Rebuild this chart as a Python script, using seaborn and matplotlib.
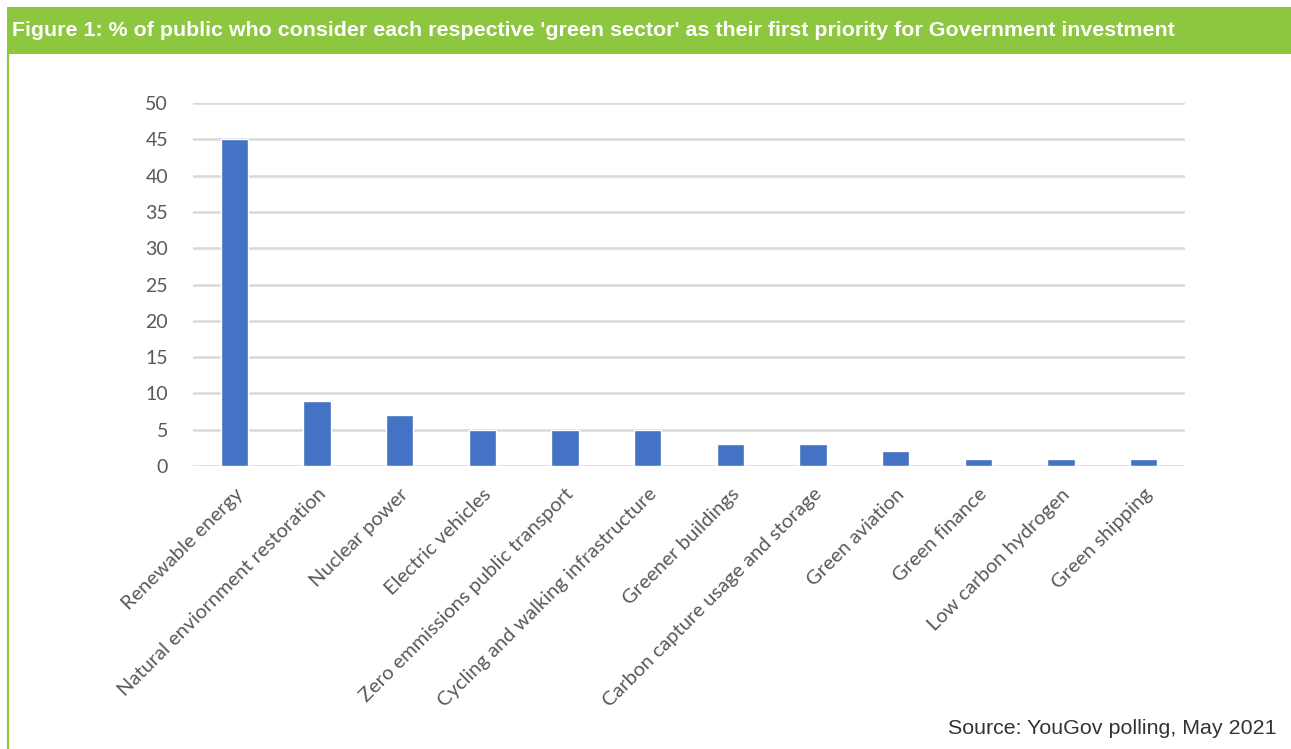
import matplotlib
matplotlib.use("Agg")
import matplotlib.pyplot as plt
import seaborn as sns
import pandas as pd
from matplotlib.patches import Rectangle
from matplotlib.lines import Line2D

categories = ["Renewable energy", "Natural enviornment restoration", "Nuclear power",
              "Electric vehicles", "Zero emmissions public transport",
              "Cycling and walking infrastructure", "Greener buildings",
              "Carbon capture usage and storage", "Green aviation", "Green finance",
              "Low carbon hydrogen", "Green shipping"]
values = [45, 9, 7, 5, 5, 5, 3, 3, 2, 1, 1, 1]
yticks = [0, 5, 10, 15, 20, 25, 30, 35, 40, 45, 50]

title = "Figure 1: % of public who consider each respective 'green sector' as their first priority for Government investment"
source = "Source: YouGov polling, May 2021"

sns.set_theme(style="white")
plt.rcParams['font.family'] = ['Lato', 'DejaVu Sans']

W, H = 1291, 749
fig = plt.figure(figsize=(W / 100, H / 100), dpi=100)
fig.patch.set_facecolor("white")

green = "#8DC63F"
fig.patches.append(Rectangle((7 / W, 1 - 54 / H), 1 - 7 / W, 47 / H, transform=fig.transFigure,
                             facecolor=green, edgecolor="none", zorder=0))
fig.lines.append(Line2D([7.5 / W, 7.5 / W], [0, 1 - 54 / H], transform=fig.transFigure,
                        color=green, lw=1.6))
fig.text(12 / W, 1 - 31 / H, title, color="white", fontsize=15.4, fontweight="bold",
         family=["Liberation Sans", "DejaVu Sans"], va="center", ha="left")
fig.text(1276 / W, 1 - 729 / H, source, color="#333333", fontsize=15.4,
         family=["Liberation Sans", "DejaVu Sans"], va="center", ha="right")

ax = fig.add_axes([193 / W, 1 - 466 / H, (1185 - 193) / W, (466 - 103) / H])
df = pd.DataFrame({"cat": categories, "val": values})
sns.barplot(data=df, x="cat", y="val", color="#4472C4", width=0.33, saturation=1, ax=ax, zorder=3)
ax.set_ylim(0, 50)
ax.set_xlim(-0.5, len(categories) - 0.5)
ax.set_yticks(yticks)
ax.yaxis.grid(True, color="#D9D9D9", lw=1.8, zorder=0)
ax.set_axisbelow(True)
for s in ax.spines.values():
    s.set_visible(False)
ax.set_xlabel("")
ax.set_ylabel("")
ax.tick_params(axis="y", length=0, pad=18, labelsize=14, labelcolor="#595959")
ax.tick_params(axis="x", length=0, pad=14, labelsize=14.5, labelcolor="#595959")
ax.set_xticks(range(len(categories)))
ax.set_xticklabels(categories, rotation=45, ha="right", rotation_mode="anchor")

fig.savefig("out.png", dpi=100)
